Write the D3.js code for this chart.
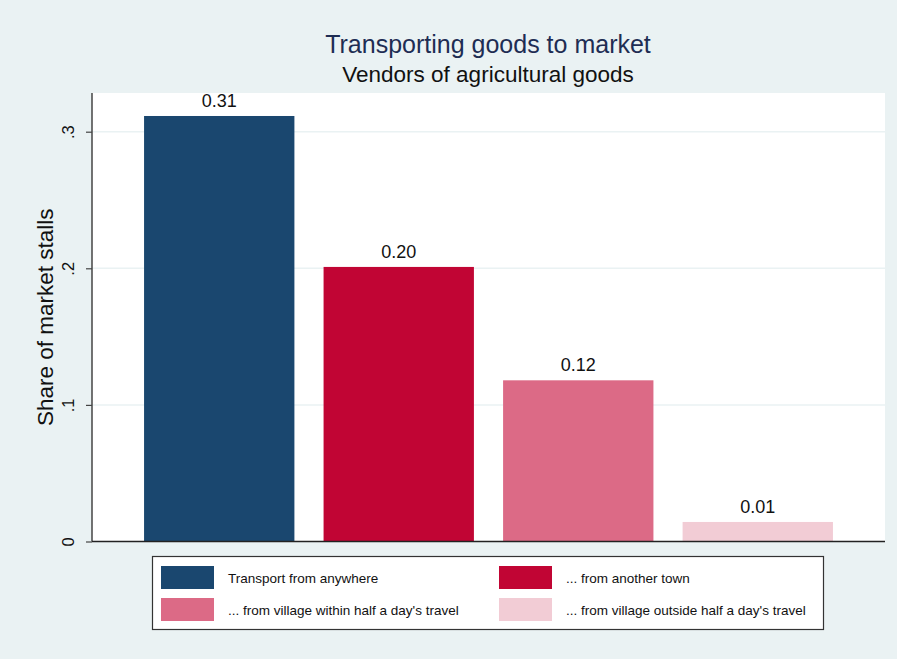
<!DOCTYPE html>
<html><head><meta charset="utf-8">
<script src="https://cdn.jsdelivr.net/npm/d3@7"></script>
<style>body{margin:0;background:#EAF2F3}svg{display:block}text{font-family:"Liberation Sans",Arial,sans-serif}</style>
</head><body>
<script>
const categories = ["Transport from anywhere", "... from another town", "... from village within half a day's travel", "... from village outside half a day's travel"];
const values = [0.3115, 0.201, 0.118, 0.0143];
const valueLabels = ["0.31", "0.20", "0.12", "0.01"];
const colors = ["#1A476F", "#C10534", "#DC6A86", "#F2CCD5"];
const yTicks = [0, 0.1, 0.2, 0.3];
const yTickLabels = ["0", ".1", ".2", ".3"];

const W = 897, H = 659;
const plot = {left: 92, right: 885, top: 93, bottom: 541.5};
const svg = d3.select("body").append("svg").attr("width", W).attr("height", H);
svg.append("rect").attr("width", W).attr("height", H).attr("fill", "#EAF2F3");
svg.append("rect").attr("x", plot.left).attr("y", plot.top).attr("width", plot.right - plot.left).attr("height", plot.bottom - plot.top).attr("fill", "#fff");

const y = d3.scaleLinear().domain([0, 0.1]).range([plot.bottom, plot.bottom - 136.6]);
const x = d3.scaleBand().domain(categories).range([plot.left, plot.right]).paddingInner(0.1625).paddingOuter(0.29);

// gridlines
svg.append("g").selectAll("line").data(yTicks.filter(d => d > 0)).join("line")
  .attr("x1", plot.left).attr("x2", plot.right)
  .attr("y1", d => y(d)).attr("y2", d => y(d))
  .attr("stroke", "#EAF2F3").attr("stroke-width", 1.5);

// bars
svg.append("g").selectAll("rect").data(values).join("rect")
  .attr("x", (d, i) => x(categories[i])).attr("width", x.bandwidth())
  .attr("y", d => y(d)).attr("height", d => plot.bottom - y(d))
  .attr("fill", (d, i) => colors[i]);

// value labels
svg.append("g").selectAll("text").data(values).join("text")
  .attr("x", (d, i) => x(categories[i]) + x.bandwidth() / 2)
  .attr("y", d => y(d) - 9)
  .attr("text-anchor", "middle").attr("font-size", 18).attr("fill", "#111")
  .text((d, i) => valueLabels[i]);

// y axis
const yAxis = d3.axisLeft(y).tickValues(yTicks).tickFormat((d, i) => yTickLabels[i]).tickSize(6).tickPadding(4);
const ga = svg.append("g").attr("transform", `translate(${plot.left},0)`).call(yAxis);
ga.select(".domain").attr("stroke", "#444").attr("stroke-width", 1.5).attr("d", `M0,${plot.top}V${plot.bottom}`);
ga.selectAll(".tick line").attr("stroke", "#444").attr("stroke-width", 1.2);
ga.selectAll(".tick text").attr("font-size", 16.5).attr("fill", "#111")
  .attr("text-anchor", "middle").attr("transform", "rotate(-90)")
  .attr("x", 0).attr("dy", 0)
  .attr("y", -18);
// x axis line
svg.append("line").attr("x1", plot.left).attr("x2", plot.right).attr("y1", plot.bottom).attr("y2", plot.bottom)
  .attr("stroke", "#222").attr("stroke-width", 1.5);

// axis title
svg.append("text").attr("transform", `translate(53,${(plot.top + plot.bottom) / 2}) rotate(-90)`)
  .attr("text-anchor", "middle").attr("font-size", 22.5).attr("fill", "#111").text("Share of market stalls");

// titles
svg.append("text").attr("x", 488).attr("y", 53).attr("text-anchor", "middle").attr("font-size", 25).attr("fill", "#1E2D53").text("Transporting goods to market");
svg.append("text").attr("x", 488).attr("y", 82).attr("text-anchor", "middle").attr("font-size", 22.5).attr("fill", "#111").text("Vendors of agricultural goods");

// legend
const lg = svg.append("g");
lg.append("rect").attr("x", 152.5).attr("y", 556.5).attr("width", 671).attr("height", 73).attr("fill", "#fff").attr("stroke", "#333").attr("stroke-width", 1.2);
const lx = [161, 499], ly = [566, 598];
categories.forEach((c, i) => {
  const col = i % 2, row = Math.floor(i / 2);
  lg.append("rect").attr("x", lx[col]).attr("y", ly[row]).attr("width", 53).attr("height", 23).attr("fill", colors[i]);
  lg.append("text").attr("x", lx[col] + 67).attr("y", ly[row] + 16.5).attr("font-size", 13.5).attr("fill", "#111").text(c);
});
</script>
</body></html>
